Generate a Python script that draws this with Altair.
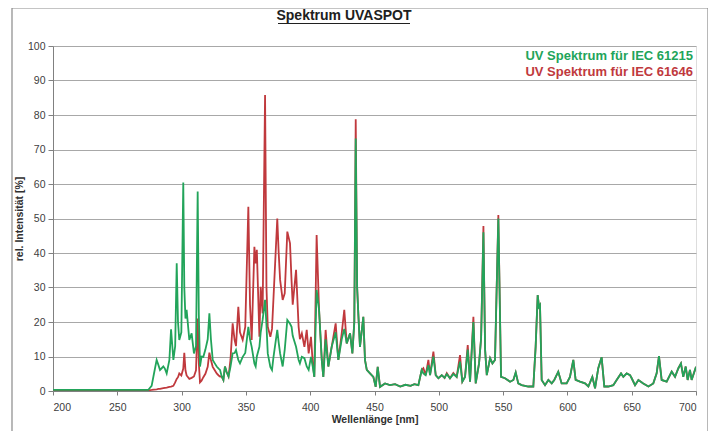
import altair as alt
import pandas as pd

# wavelength grid (nm) shared by both spectra
wl = [200, 230, 260, 274, 276.7, 278.5, 280.6, 282, 283.2, 285.8, 287, 288.4, 290.5, 291.8, 293.6, 295,
      296.2, 297.2, 298.2, 299.8, 301.3, 302.1, 303.0, 303.9, 306.0, 307.8, 309.6, 311.2, 312.5, 313.4,
      314.3, 315.5, 316.9, 318.5, 320.3, 321.6, 322.8, 324.2, 325.8, 327.3, 328.8, 329.9, 331.2, 332.5,
      333.7, 335, 336.5, 338.0, 339.7, 341.2, 342.3, 344.1, 345.4, 347.5, 349.5, 351.9, 353.2, 354.5,
      356.6, 357.6, 358.5, 360.5, 361.5, 363.0, 364.9, 366.0, 367.0, 369.0, 370.3, 371.5, 374.4, 375.5,
      376.6, 378.6, 380.2, 382.2, 384.3, 385.5, 386.4, 389.0, 391.0, 392.0, 393.5, 395.5, 397.3, 398.8,
      400.6, 402.0, 403.2, 405.0, 406.9, 409.0, 410.2, 412.0, 414.1, 416.7, 419.8, 421.9, 424.5, 426.5,
      428.4, 431.0, 432.8, 434.3, 435.4, 436.5, 437.4, 438.7, 441.3, 442.6, 444.0, 446.5, 449.1, 450.9,
      452.5, 454.3, 458.2, 462, 466, 470, 474, 478, 481, 484.1, 486.7, 488.0, 489.8, 491.9, 493.2, 495.8,
      497.6, 499.7, 502.3, 504.5, 506.2, 508.7, 511.3, 513.9, 516.5, 518.3, 520.4, 522.5, 524.3, 526.9,
      528.7, 531.3, 532.9, 534.7, 536.0, 537.3, 539.9, 541.7, 543.7, 546.3, 548.4, 551.5, 555.4, 558.0,
      559.8, 561.8, 564.4, 569.6, 573.5, 575.3, 576.9, 577.9, 578.7, 580.0, 582.6, 585.2, 587.8, 589.8,
      592.9, 595.5, 599.4, 602.0, 604.6, 606.4, 609.8, 613.7, 616.3, 619.4, 621.5, 624.0, 626.6, 628.7,
      631.8, 635.7, 638.3, 641.7, 643.5, 646.1, 648.7, 650.0, 652.6, 655.2, 659.0, 663.0, 666.8, 669.4,
      671.2, 673.3, 677.2, 681.1, 683.7, 686.3, 688.3, 690.1, 692.0, 693.5, 695.3, 696.6, 700]

# UV Spektrum für IEC 61215 (green)
green = [0.3, 0.3, 0.3, 0.3, 1.5, 5, 9, 7.5, 6.1, 7.1, 6.5, 5.1, 9, 17.9, 9, 13,
         37, 20, 14.8, 17, 60.4, 30, 21, 23.5, 14.8, 16.7, 10.9, 13, 57.8, 22,
         7.1, 10, 9.9, 12, 15, 22.5, 15, 9, 8, 7.1, 6.5, 6.1, 4.2, 3.2,
         7.1, 5.5, 4.2, 7, 10.9, 11, 11.9, 9, 8, 9.9, 11, 18.6, 15, 12.8,
         8, 7.1, 10, 12.8, 17, 20.6, 26.4, 19, 10.9, 7, 6.1, 10, 17.7, 14,
         10.9, 7.1, 12, 20.6, 19.5, 18.6, 16, 12.8, 9, 8, 9.9, 9.5, 7.1, 6.1,
         9.9, 7, 4.1, 29.3, 23.5, 9, 4.1, 15, 7.1, 12.8, 17, 9, 15, 18,
         13.8, 16.7, 10.9, 20, 73.2, 30, 22.5, 12.8, 21.5, 9, 6.1, 5.1, 4.1, 1.2,
         7, 1.2, 2.2, 1.7, 2.0, 1.3, 1.8, 1.5, 2.0, 1.7, 6.1, 5.1, 4.6, 7.5, 4.6, 10,
         4.6, 3.7, 4.6, 3.8, 4.9, 3.7, 4.9, 4.1, 8.5, 2.7, 4.1, 12, 2.7, 20,
         2.2, 8, 15.3, 46, 12, 4.6, 9.5, 8, 9, 50, 4.1, 3.7, 2.7, 3.2,
         5.4, 2.2, 1.7, 1.3, 1.3, 12.8, 27.8, 24.4, 24.9, 3.2, 1.7, 3.2, 2.2, 3.2,
         5.6, 2.2, 2.2, 4.1, 9, 3.2, 2.7, 2.2, 1.3, 4.1, 0.8, 6.6, 9.8, 1.3,
         1.3, 1.7, 3.2, 5.1, 4.1, 5.1, 4.6, 3.7, 1.7, 3.2, 2.2, 1.3, 2.2, 5.1,
         10.1, 3.2, 2.7, 5.6, 4.1, 6.6, 8, 4.1, 7.1, 3.2, 6.1, 3.2, 7]

# UV Spektrum für IEC 61646 (red)
red = [0.2, 0.2, 0.2, 0.2, 0.3, 0.4, 0.5, 0.6, 0.6, 0.8, 0.9, 1.0, 1.2, 1.3, 1.5, 2.5,
       3.5, 4.0, 5.1, 4.5, 6.5, 11.1, 6, 4.5, 3.5, 3.8, 4.2, 6, 21, 8,
       2.5, 3, 4, 5, 7, 11.1, 9, 7, 6, 5.1, 4.5, 4.2, 4.2, 3.2,
       7.1, 5.5, 4.2, 9, 19.6, 14.8, 13, 24.4, 17, 14.8, 18.6, 53.4, 25, 14.8,
       41.8, 37, 40.9, 15.7, 30.2, 22.5, 85.8, 30, 18.6, 15.7, 18, 27.3, 50, 40,
       32.2, 26.4, 28.3, 46.2, 42.8, 32, 25, 35.1, 18.6, 15, 16.7, 12.8, 17.7, 10.9,
       15.7, 8, 4.1, 45.2, 23.5, 9, 4.1, 17.7, 7.1, 12.8, 19.6, 9, 16.7, 23.5,
       13.8, 16.7, 10.9, 20, 78.8, 30, 22.5, 12.8, 21.5, 9, 6.1, 5.1, 4.1, 1.2,
       7, 1.2, 2.2, 1.7, 2.0, 1.3, 1.8, 1.5, 2.0, 1.7, 6.1, 6.6, 4.6, 9, 4.6, 11.4,
       4.6, 3.7, 4.6, 3.8, 5.2, 3.7, 5.2, 4.1, 10.4, 2.7, 4.1, 13.3, 2.7, 21.5,
       2.2, 8, 15.3, 47.8, 12, 4.6, 9.5, 8, 9, 51, 4.1, 3.7, 2.7, 3.2,
       5.4, 2.2, 1.7, 1.3, 1.3, 12.8, 27.8, 24.4, 24.9, 3.2, 1.7, 3.2, 2.2, 3.2,
       5.6, 2.2, 2.2, 4.1, 9, 3.2, 2.7, 2.2, 1.3, 4.1, 0.8, 6.6, 9.8, 1.3,
       1.3, 1.7, 3.2, 5.1, 4.1, 5.1, 4.6, 3.7, 1.7, 3.2, 2.2, 1.3, 2.2, 5.1,
       10.1, 3.2, 2.7, 5.6, 4.1, 6.6, 8, 4.1, 7.1, 3.2, 6.1, 3.2, 7]

series_names = ["UV Spektrum für IEC 61215", "UV Spektrum für IEC 61646"]
x_ticks = [200, 250, 300, 350, 400, 450, 500, 550, 600, 650, 700]
y_ticks = [0, 10, 20, 30, 40, 50, 60, 70, 80, 90, 100]
title_text = "Spektrum UVASPOT"

GREEN = "#22a45a"
RED = "#c0393d"
FONT = "Liberation Sans"
W, H = 643, 345

df = pd.DataFrame({"wl": wl, "green": green, "red": red})
one = pd.DataFrame({"k": [0]})

x_axis = alt.Axis(values=x_ticks, title="Wellenlänge  [nm]", grid=False, tickCount=11,
                  labelFontSize=10.5, labelColor="#404040", titleFontSize=10.5,
                  titleFontWeight="bold", titleColor="#303030", titlePadding=2,
                  tickSize=4, tickColor="#808080", domainColor="#808080",
                  labelPadding=7, labelFont=FONT, titleFont=FONT, labelOverlap=False)
y_axis = alt.Axis(values=y_ticks, title="rel. Intensität  [%]", grid=True, gridColor="#a8a8a8",
                  tickCount=11, labelFontSize=10.5, labelColor="#404040", titleFontSize=10.5,
                  titleFontWeight="bold", titleColor="#303030", titlePadding=3,
                  tickSize=5, tickColor="#808080", domainColor="#808080",
                  labelPadding=3, labelFont=FONT, titleFont=FONT, labelOverlap=False)
x_scale = alt.Scale(domain=[200, 700], nice=False)
y_scale = alt.Scale(domain=[0, 100], nice=False)

red_line = alt.Chart(df).mark_line(color=RED, strokeWidth=1.8, clip=True).encode(
    x=alt.X("wl:Q", scale=x_scale, axis=x_axis),
    y=alt.Y("red:Q", scale=y_scale, axis=y_axis))
green_line = alt.Chart(df).mark_line(color=GREEN, strokeWidth=1.8, clip=True).encode(
    x=alt.X("wl:Q", scale=x_scale, axis=x_axis),
    y=alt.Y("green:Q", scale=y_scale, axis=y_axis))

leg1 = alt.Chart(one).mark_text(align="right", baseline="middle", fontSize=13, font=FONT,
                                fontWeight="bold", color=GREEN).encode(
    x=alt.value(640), y=alt.value(10), text=alt.value(series_names[0]))
leg2 = alt.Chart(one).mark_text(align="right", baseline="middle", fontSize=13, font=FONT,
                                fontWeight="bold", color=RED).encode(
    x=alt.value(640), y=alt.value(26), text=alt.value(series_names[1]))

title = alt.Chart(one).mark_text(align="center", baseline="alphabetic", fontSize=14, font=FONT,
                                 fontWeight="bold", color="#202020").encode(
    x=alt.value(291), y=alt.value(-26), text=alt.value(title_text))
underline = alt.Chart(one).mark_rule(color="#202020", strokeWidth=1).encode(
    x=alt.value(225), x2=alt.value(357), y=alt.value(-22.5))

frame = alt.Chart(one).mark_rect(fill=None, stroke="#8a8a8a", strokeWidth=1.2).encode(
    x=alt.value(-41), x2=alt.value(655), y=alt.value(-38), y2=alt.value(420))

chart = alt.layer(frame, red_line, green_line, leg1, leg2, title, underline).properties(
    width=W, height=H,
    autosize=alt.AutoSizeParams(type="none"),
    padding={"left": 45, "top": 38, "right": 12, "bottom": 40},
).configure_view(stroke="#8a8a8a", strokeWidth=1).configure(background="white")

chart.save("out.html", embed_options={"renderer": "svg", "actions": False})
